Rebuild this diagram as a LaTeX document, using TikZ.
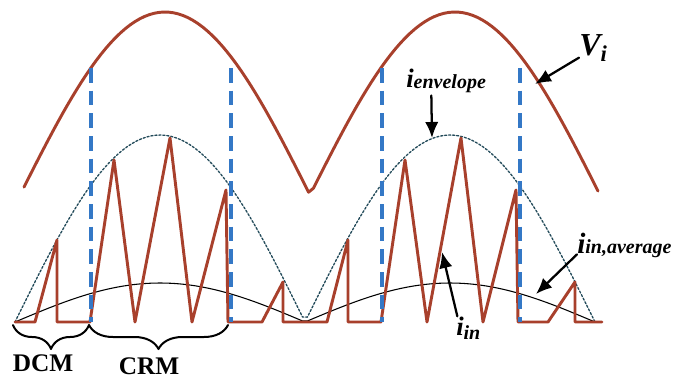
\documentclass[tikz,border=0pt]{standalone}
\usepackage{fontspec}
\setmainfont{Liberation Serif}
\usetikzlibrary{arrows.meta,decorations.pathreplacing}
\definecolor{wavered}{RGB}{168,64,44}
\definecolor{boundblue}{RGB}{52,120,198}
\definecolor{envteal}{RGB}{35,75,90}
\newcommand{\sig}[5]{{\fontsize{#1}{#1}\selectfont #2}\raisebox{-#5}{\fontsize{#4}{#4}\selectfont #3}}
\begin{document}
\begin{tikzpicture}[x=0.75pt, y=-0.75pt, line cap=round, line join=round,
    wave/.style={wavered, line width=2.2pt},
    bound/.style={boundblue, line width=3pt, line cap=butt, dash pattern=on 11pt off 6pt},
    pointer/.style={-{Latex[length=12pt,width=10pt]}, line width=1.7pt},
    lbl/.style={inner sep=0pt, font=\bfseries\itshape},
    modebrace/.style={decorate, decoration={brace, mirror, amplitude=18pt}, line width=1.5pt}]
  \useasboundingbox (0,0) rectangle (675,380);
  % input voltage
  \draw[wave, domain=24:598, samples=120] plot (\x, {195-183*abs(sin((\x-20)/290*180))});
  % envelope and average of the input current
  \draw[envteal, line width=1pt, dash pattern=on 1.6pt off 1.4pt, domain=15:595, samples=120]
    plot (\x, {322-187*abs(sin((\x-15)/290*180))});
  \draw[black, line width=0.8pt, domain=15:595, samples=120]
    plot (\x, {322-39*abs(sin((\x-15)/290*180))});
  % inductor current
  \draw[wave] (15,322) -- (35,322) -- (57,240) -- (57,322) -- (90,322) -- (114,160) -- (135,322)
    -- (170,138) -- (192,322) -- (226,190) -- (228,322) -- (262,322) -- (283,282) -- (283,322)
    -- (327,322) -- (348,240) -- (348,322) -- (381,322) -- (405,160) -- (427,322)
    -- (461,138) -- (483,322) -- (516,190) -- (518,322) -- (548,322) -- (575,282) -- (575,322) -- (602,322);
  % mode boundaries
  \foreach \bx in {91,231,382,520}
    \draw[bound] (\bx,68) -- (\bx,322);
  % braces
  \coordinate (dcm-l) at (13,325);
  \coordinate (dcm-r) at (89,325);
  \coordinate (crm-r) at (228,325);
  \draw[modebrace] (dcm-l) -- (dcm-r);
  \draw[modebrace] (dcm-r) -- (crm-r);
  \node[font=\bfseries\fontsize{19}{19}\selectfont, anchor=base] (dcm) at (43,371) {DCM};
  \node[font=\bfseries\fontsize{19}{19}\selectfont, anchor=base] (crm) at (149,374) {CRM};
  % labels
  \node[lbl, anchor=base west] (vi) at (579,55) {\sig{24}{V}{i}{17}{5pt}};
  \node[lbl, anchor=base west] (ienv) at (406,87) {\sig{20}{i}{envelope}{15}{1pt}};
  \node[lbl, anchor=base west] (iavg) at (577,253) {\sig{22}{i}{in,average}{15}{0pt}};
  \node[lbl, anchor=base west] (iin) at (456,335) {\sig{20}{i}{in}{15}{3pt}};
  \coordinate (vi-tip) at (535,84);
  \coordinate (ienv-tip) at (432,138);
  \coordinate (iavg-tip) at (536,294);
  \coordinate (iin-tip) at (442,252);
  \draw[pointer] ([yshift=-2pt]vi.base west) -- (vi-tip);
  \draw[pointer] ([xshift=19pt,yshift=-2pt]ienv.south west) -- (ienv-tip);
  \draw[pointer] ([yshift=-1pt]iavg.base west) -- (iavg-tip);
  \draw[pointer] ([xshift=1pt]iin.north west) -- (iin-tip);
\end{tikzpicture}
\end{document}
